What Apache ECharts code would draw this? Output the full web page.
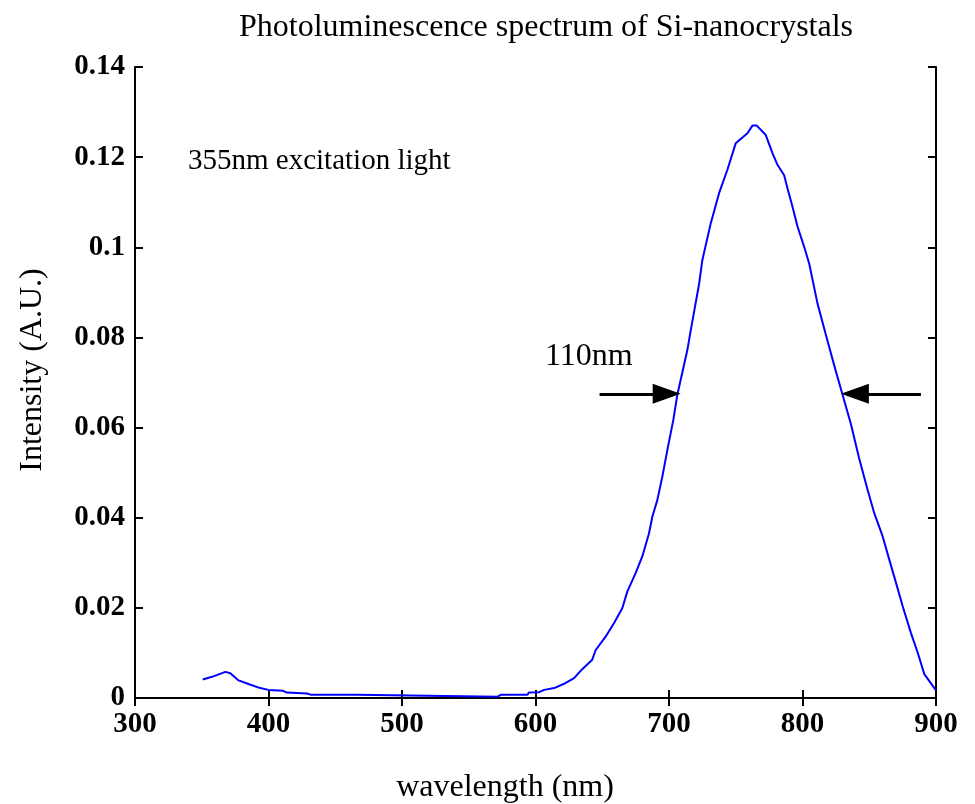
<!DOCTYPE html>
<html><head><meta charset="utf-8">
<script src="https://cdn.jsdelivr.net/npm/echarts@6/dist/echarts.min.js"></script>
<style>html,body{margin:0;padding:0;background:#fff}#c{width:975px;height:804px}</style>
</head><body><div id="c"></div>
<script>
const wavelength = [350.7,357.7,367.7,371.4,377.6,385,393.8,400,411,413.7,428.9,432,466,467,571.6,574,594,595,602.7,606.5,614,621,628.9,635,642.5,645,652.5,658.75,665,668.75,675,680,685,687.5,691.25,695,698.75,703.25,706.25,713.75,716.25,722.5,725,731.25,737.5,743.75,750,758.75,762.5,765.75,772.5,777.5,781.25,786.25,788.75,792.5,796.25,801.25,805,811.25,817.5,823.75,830,836.25,842.5,848.75,853.75,860,865,870,875,881.25,886.25,891.25,900];
const intensity = [0.0041,0.0047,0.0058,0.0055,0.0039,0.0031,0.0022,0.0018,0.0016,0.0012,0.0010,0.0007,0.0007,0.0003,0.0003,0.0007,0.0007,0.0012,0.0013,0.0018,0.0022,0.0031,0.0044,0.0064,0.0085,0.0106,0.0136,0.0166,0.0199,0.0236,0.0277,0.0314,0.0365,0.0402,0.0439,0.0491,0.0550,0.0617,0.0673,0.0772,0.0815,0.0918,0.0972,0.1053,0.1120,0.1172,0.1231,0.1253,0.1270,0.1270,0.1249,0.1209,0.1183,0.1160,0.1131,0.1090,0.1046,0.1001,0.0964,0.0875,0.0806,0.0738,0.0673,0.0608,0.0531,0.0462,0.0410,0.0359,0.0307,0.0256,0.0204,0.0144,0.0101,0.0053,0.0017];
const xTicks = [300,400,500,600,700,800,900];
const yTicks = [0,0.02,0.04,0.06,0.08,0.1,0.12,0.14];
const arrowY = 0.0675;
const leftArrow = [648, 698.25];
const rightArrow = [888.75, 839.25];

const serif = '"Liberation Serif", "Times New Roman", serif';
const chart = echarts.init(document.getElementById('c'), null, {renderer:'canvas'});
const axisLine = {show:true, lineStyle:{color:'#000', width:2}};
const tick = {show:true, inside:true, length:8, lineStyle:{color:'#000', width:2}};
const data = wavelength.map((w,i)=>[w,intensity[i]]);
chart.setOption({
  animation:false,
  backgroundColor:'#fff',
  title:{text:'Photoluminescence spectrum of Si-nanocrystals', left:541, top:7, textAlign:'center',
    textStyle:{fontFamily:serif, fontWeight:'normal', fontSize:32, color:'#000'}},
  grid:{left:135, right:39, top:67, bottom:106},
  xAxis:[
    {type:'value', min:xTicks[0], max:xTicks[xTicks.length-1], interval:100, position:'bottom',
     axisLine, axisTick:tick, splitLine:{show:false},
     axisLabel:{fontFamily:serif, fontWeight:'bold', fontSize:29, color:'#000', margin:12}},
    {type:'value', min:xTicks[0], max:xTicks[xTicks.length-1], interval:100, position:'top',
     axisLine, axisTick:tick, splitLine:{show:false}, axisLabel:{show:false}}
  ],
  yAxis:[
    {type:'value', min:yTicks[0], max:yTicks[yTicks.length-1], interval:0.02, position:'left',
     axisLine, axisTick:tick, splitLine:{show:false},
     axisLabel:{fontFamily:serif, fontWeight:'bold', fontSize:29, color:'#000', margin:10,
       formatter:v=>String(+v.toFixed(2))}},
    {type:'value', min:yTicks[0], max:yTicks[yTicks.length-1], interval:0.02, position:'right',
     axisLine, axisTick:tick, splitLine:{show:false}, axisLabel:{show:false}}
  ],
  series:[
    {type:'line', data, showSymbol:false, symbol:'none', lineStyle:{color:'#0000ff', width:2},
     markLine:{silent:true, symbol:['none','triangle'], symbolSize:[20,28],
       label:{show:false},
       lineStyle:{color:'#000', width:3, type:'solid'},
       data:[
         [{coord:[leftArrow[0],arrowY]},{coord:[leftArrow[1],arrowY]}],
         [{coord:[rightArrow[0],arrowY]},{coord:[rightArrow[1],arrowY]}]
       ]}}
  ],
  graphic:[
    {type:'text', left:188, top:147, style:{text:'355nm excitation light', font:'29px '+serif, fill:'#000'}},
    {type:'text', left:545, top:341, style:{text:'110nm', font:'32px '+serif, fill:'#000'}},
    {type:'text', x:505, y:788, style:{text:'wavelength (nm)', font:'32px '+serif, fill:'#000', textAlign:'center', textVerticalAlign:'middle'}},
    {type:'text', x:33, y:370, rotation:Math.PI/2, style:{text:'Intensity (A.U.)', font:'32px '+serif, fill:'#000', textAlign:'center', textVerticalAlign:'middle'}}
  ]
});
</script></body></html>
